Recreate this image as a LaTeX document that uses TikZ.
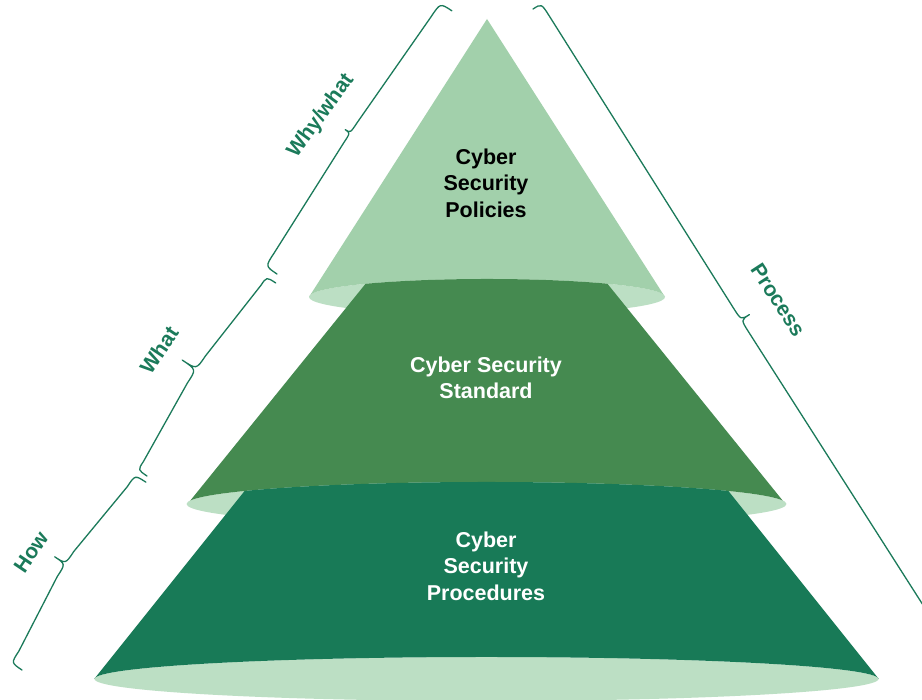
\documentclass[tikz,border=0pt]{standalone}
\usepackage{fontspec}
\setmainfont{Liberation Sans}
\definecolor{topc}{HTML}{A2D0AB}
\definecolor{ellc}{HTML}{BCDFC4}
\definecolor{stdc}{HTML}{458A50}
\definecolor{proc}{HTML}{187A57}
\definecolor{brc}{HTML}{1B7A5A}
\tikzset{
  bracestyle/.style={draw=brc, line width=1.3pt, line cap=round, line join=round},
  maintext/.style={font=\bfseries\fontsize{21.5}{26.5}\selectfont, align=center, inner sep=0pt},
  sidelabel/.style={font=\bfseries\fontsize{21}{24}\selectfont, text=brc, inner sep=0pt}
}
% #1 origin, #2 angle, #3 length, #4 end offset, #5 mid offset, #6 tip, #7 hook length, #8 tip curve length
\newcommand{\curlybrace}[8]{%
  \begin{scope}[shift={#1}, rotate=#2]
    \draw[bracestyle] (0,0) .. controls (0,#4) .. (#7,#4)
      -- ({#3/2-#8},#5) .. controls ({#3/2},#5) .. ({#3/2},{#5+#6})
      .. controls ({#3/2},#5) .. ({#3/2+#8},#5)
      -- ({#3-#7},#4) .. controls (#3,#4) .. (#3,0);
  \end{scope}}
\begin{document}
\begin{tikzpicture}[x=1pt,y=1pt]
\useasboundingbox (0,0) rectangle (922,700);
\clip (0,0) rectangle (922,700);
\fill[white] (0,0) rectangle (922,700);

% ---- top cone: Policies
\fill[ellc] (487,403) ellipse [x radius=178, y radius=18];
\begin{scope}
  \clip (-10,403) -- (309,403) arc[start angle=180, end angle=0, x radius=178, y radius=18]
        -- (932,403) -- (932,710) -- (-10,710) -- cycle;
  \fill[topc] (487,681) -- (309,403) -- (665,403) -- cycle;
\end{scope}

% ---- middle layer: Standard
\fill[ellc] (486.5,196) ellipse [x radius=300, y radius=22];
\begin{scope}
  \clip (-10,403) -- (309,403) arc[start angle=180, end angle=0, x radius=178, y radius=18]
        -- (932,403) -- (932,-10) -- (-10,-10) -- cycle;
  \clip (-10,196) -- (186.5,196) arc[start angle=180, end angle=0, x radius=300, y radius=22]
        -- (932,196) -- (932,710) -- (-10,710) -- cycle;
  \fill[stdc] (376.7,430) -- (182.7,190) -- (790.3,190) -- (596.3,430) -- cycle;
\end{scope}

% ---- bottom layer: Procedures
\fill[ellc] (486.5,21) ellipse [x radius=392, y radius=22];
\begin{scope}
  \clip (-10,196) -- (186.5,196) arc[start angle=180, end angle=0, x radius=300, y radius=22]
        -- (932,196) -- (932,-10) -- (-10,-10) -- cycle;
  \clip (-10,21) -- (94.5,21) arc[start angle=180, end angle=0, x radius=392, y radius=22]
        -- (932,21) -- (932,710) -- (-10,710) -- cycle;
  \fill[proc] (261.4,230) -- (85.4,10) -- (887.6,10) -- (711.6,230) -- cycle;
\end{scope}

% ---- texts
\node[maintext, text=black] (pol) at (486,517) {Cyber\\Security\\Policies};
\node[maintext, text=white] (std) at (486,322) {Cyber Security\\Standard};
\node[maintext, text=white] (prc) at (486,134) {Cyber\\Security\\Procedures};

% ---- braces
\curlybrace{(277,426)}{56.4}{316}{14}{17}{6}{16}{12}
\curlybrace{(147,224)}{56.3}{232}{11}{18}{17}{10}{16}
\curlybrace{(22,30)}{56.6}{225}{13}{22}{13}{14}{15}
\curlybrace{(533,691)}{-57.6}{748}{10}{9}{10}{14}{14}

% ---- brace labels
\node[sidelabel, rotate=54] (why) at (321,584) {Why/what};
\node[sidelabel, rotate=56] (what) at (159,350) {What};
\node[sidelabel, rotate=56] (how) at (31,148) {How};
\node[sidelabel, rotate=-57] (process) at (778,400) {Process};
\end{tikzpicture}
\end{document}
